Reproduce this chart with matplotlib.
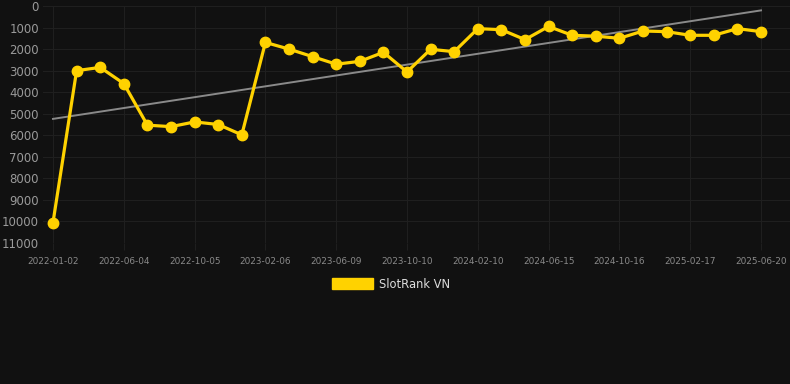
import matplotlib
matplotlib.use("Agg")
import matplotlib.pyplot as plt
from matplotlib.patches import Patch
import numpy as np

tick_labels = ["2022-01-02", "2022-06-04", "2022-10-05", "2023-02-06", "2023-06-09",
               "2023-10-10", "2024-02-10", "2024-06-15", "2024-10-16", "2025-02-17",
               "2025-06-20"]
ranks = [10050, 3000, 2850, 3600, 5530, 5600, 5380, 5500, 5980, 1690,
         2000, 2350, 2700, 2570, 2150, 3060, 2010, 2120, 1050, 1100,
         1560, 950, 1360, 1400, 1500, 1160, 1190, 1360, 1360, 1050, 1190]
series_name = "SlotRank VN"

bg = "#111111"
gold = "#FFD200"

fig = plt.figure(figsize=(7.9, 3.84), dpi=100, facecolor=bg)
W, H = 790, 384
ax = fig.add_axes([43 / W, (H - 243) / H, (W - 43) / W, 237 / H])
ax.set_facecolor(bg)

x = np.arange(len(ranks))
y = np.array(ranks, dtype=float)

coef = np.polyfit(x, y, 1)
ax.plot(x, np.polyval(coef, x), color="#8a8a8a", lw=1.4, zorder=2)
ax.plot(x, y, color=gold, lw=2.3, marker="o", ms=7.5, zorder=3)

ax.set_ylim(11000, 0)
ax.set_yticks(range(0, 11001, 1000))
ax.set_yticklabels([str(v) for v in range(0, 11001, 1000)])
ax.set_xlim(-10 / 23.6, 30 + 29 / 23.6)
ax.set_xticks(x[::3])
ax.set_xticklabels(tick_labels)

ax.grid(True, color="#1f1f1f", lw=0.8)
ax.set_axisbelow(True)
for s in ax.spines.values():
    s.set_visible(False)
ax.tick_params(axis="y", length=0, pad=3, labelsize=8.5, labelcolor="#9a9a9a")
ax.tick_params(axis="x", length=5, color="#1f1f1f", pad=5, labelsize=6.4, labelcolor="#8a8a8a")

fig.legend(handles=[Patch(facecolor=gold, edgecolor=gold)], labels=[series_name],
           loc="center", bbox_to_anchor=(391 / W, 1 - 284 / H), frameon=False,
           handlelength=3.6, handleheight=1.0, handletextpad=0.5,
           fontsize=8.3, labelcolor="#dddddd")

fig.savefig("out.png", dpi=100, facecolor=bg)
